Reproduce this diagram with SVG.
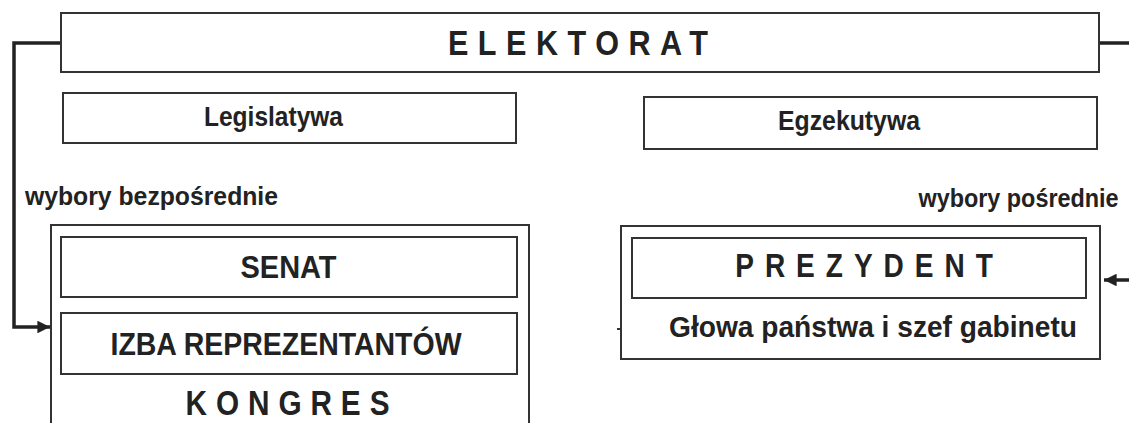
<svg xmlns="http://www.w3.org/2000/svg" width="1129" height="423" viewBox="0 0 1129 423">
  <style>
    .box { fill: none; stroke: #333; stroke-width: 2; }
    .t { font-family: "Liberation Sans", Arial, sans-serif; font-weight: bold; fill: #222; text-anchor: middle; }
    .conn { fill: none; stroke: #222; stroke-width: 3.5; }
  </style>
  <defs>
    <marker id="arr" viewBox="0 0 10 10" refX="10" refY="5" markerWidth="4" markerHeight="3.6" markerUnits="strokeWidth" orient="auto">
      <path d="M0,0 L10,5 L0,10 z" fill="#222"/>
    </marker>
  </defs>
  <rect width="1129" height="423" fill="#fff"/>

  <g id="connectors">
    <path class="conn" d="M61,43 H14 V327 H50" marker-end="url(#arr)"/>
    <path class="conn" d="M1100,43 H1129"/>
    <path class="conn" d="M1129,280 H1104" marker-end="url(#arr)"/>
    <path d="M617,329 H621" stroke="#333" stroke-width="2"/>
  </g>

  <g id="elektorat">
    <rect class="box" x="61" y="13" width="1038" height="59"/>
    <text class="t" font-size="36" transform="translate(578,55) scale(0.85,1)" textLength="306" lengthAdjust="spacing">ELEKTORAT</text>
  </g>

  <g id="legislatywa">
    <rect class="box" x="63" y="93" width="453" height="50"/>
    <text class="t" font-size="27" x="273.5" y="126" textLength="139" lengthAdjust="spacingAndGlyphs">Legislatywa</text>
  </g>

  <g id="egzekutywa">
    <rect class="box" x="644" y="97" width="453" height="52"/>
    <text class="t" font-size="27" x="849" y="130" textLength="142" lengthAdjust="spacingAndGlyphs">Egzekutywa</text>
  </g>

  <g id="label-bezposrednie">
    <text class="t" font-size="26" x="151.5" y="205" textLength="253" lengthAdjust="spacingAndGlyphs">wybory bezpośrednie</text>
  </g>

  <g id="label-posrednie">
    <text class="t" font-size="26" transform="translate(1018.5,207) scale(0.9,1)">wybory pośrednie</text>
  </g>

  <g id="kongres">
    <rect class="box" x="51" y="225" width="478" height="220"/>
    <text class="t" font-size="35" transform="translate(287.5,415) scale(0.85,1)" textLength="240" lengthAdjust="spacing">KONGRES</text>
  </g>

  <g id="senat">
    <rect class="box" x="61" y="237" width="456" height="60"/>
    <text class="t" font-size="32" x="288.5" y="278" textLength="96" lengthAdjust="spacingAndGlyphs">SENAT</text>
  </g>

  <g id="izba">
    <rect class="box" x="61" y="313" width="456" height="61"/>
    <text class="t" font-size="32" x="286" y="355" textLength="351" lengthAdjust="spacingAndGlyphs">IZBA REPREZENTANTÓW</text>
  </g>

  <g id="prezydent-outer">
    <rect class="box" x="621" y="226" width="479" height="133"/>
    <text class="t" font-size="29" x="873" y="337" textLength="408" lengthAdjust="spacingAndGlyphs">Głowa państwa i szef gabinetu</text>
  </g>

  <g id="prezydent">
    <rect class="box" x="632" y="238" width="454" height="60"/>
    <text class="t" font-size="33" transform="translate(864,277) scale(0.85,1)" textLength="303" lengthAdjust="spacing">PREZYDENT</text>
  </g>
</svg>
